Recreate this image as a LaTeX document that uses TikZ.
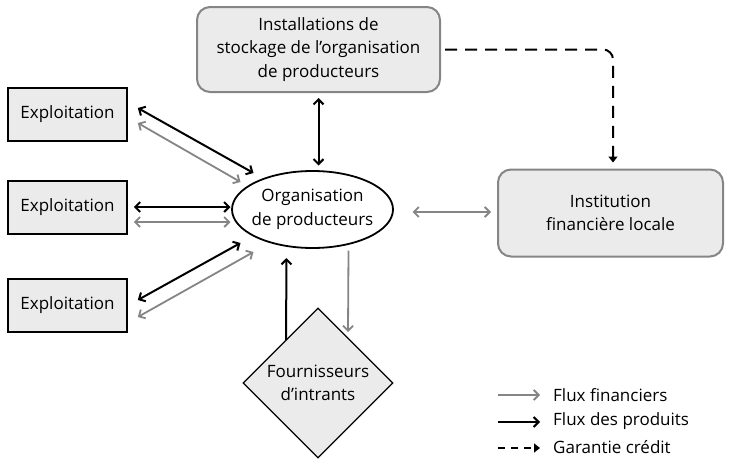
\documentclass[tikz,border=0pt]{standalone}
\usepackage{fontspec}
\setmainfont{Open Sans}
\usetikzlibrary{arrows.meta,shapes.geometric}
\definecolor{boxfill}{HTML}{EBEBEB}
\definecolor{flowgrey}{HTML}{858585}
\begin{document}
\begin{tikzpicture}[x=1pt,y=-1pt,
  every node/.style={font=\fontsize{17}{23.5}\selectfont, align=center},
  farm/.style={draw=black, line width=1.6pt, fill=boxfill, minimum width=119pt, minimum height=53pt, inner sep=0pt},
  roundbox/.style={draw=flowgrey, line width=2pt, fill=boxfill, rounded corners=13pt, inner sep=0pt},
  prod/.style={draw=black, line width=2pt, arrows={Straight Barb[length=5pt,width=10pt]-Straight Barb[length=5pt,width=10pt]}},
  fin/.style={draw=flowgrey, line width=1.8pt, arrows={Straight Barb[length=5pt,width=10pt]-Straight Barb[length=5pt,width=10pt]}},
  one/.style={arrows={-Straight Barb[length=5pt,width=10pt]}},
  credit/.style={draw=black, line width=2pt, dash pattern=on 12pt off 8pt, rounded corners=10pt, -{Triangle[length=6pt,width=9pt]}}
]
\useasboundingbox (0,0) rectangle (731,458);

% boxes
\node[roundbox, minimum width=243pt, minimum height=85pt] (store) at (318.5,49.5)
  {Installations de\\stockage de l'organisation\\de producteurs};
\node[roundbox, minimum width=225pt, minimum height=87pt] (bank) at (610.5,213)
  {Institution\\financière locale};
\node[draw=black, line width=1.8pt, fill=white, ellipse, minimum width=161pt, minimum height=77pt, inner xsep=-8pt, inner ysep=0pt] (op) at (312.5,209.5)
  {Organisation\\de producteurs};
\node[farm] (e1) at (67.5,114.5) {Exploitation};
\node[farm] (e2) at (67.5,207.5) {Exploitation};
\node[farm] (e3) at (67.5,305.5) {Exploitation};
\node[draw=black, line width=1.2pt, fill=boxfill, diamond, minimum width=150pt, minimum height=150pt, inner sep=0pt] (supp) at (318,383)
  {Fournisseurs\\d'intrants};

% farms <-> producer organisation
\draw[prod] ([shift={(10,-6.5)}]e1.east) -- ([shift={(-59,-36.5)}]op.center);
\draw[fin]  ([shift={(10,8.5)}]e1.east) -- ([shift={(-72,-27.5)}]op.center);
\draw[prod] ([shift={(6,-0.5)}]e2.east) -- ([shift={(-82,-2.5)}]op.center);
\draw[fin]  ([shift={(6,14.5)}]e2.east) -- ([shift={(-82,12.5)}]op.center);
\draw[prod] ([shift={(10,-5.5)}]e3.east) -- ([shift={(-72,33.5)}]op.center);
\draw[fin]  ([shift={(10,11.5)}]e3.east) -- ([shift={(-59,42.5)}]op.center);

% storage, bank, suppliers
\draw[prod] ([shift={(0,5)}]store.south) -- ([shift={(6,-44)}]op.center);
\draw[fin] ([shift={(100,2.5)}]op.center) -- ([shift={(-6,-1)}]bank.west);
\draw[draw=black, line width=2pt, one] ([shift={(-32,-43)}]supp.center) -- ([shift={(-26,48.5)}]op.center);
\draw[draw=flowgrey, line width=1.8pt, one] ([shift={(36,41)}]op.center) -- ([shift={(30,-51)}]supp.center);
\draw[credit] ([shift={(4,0)}]store.east) -| ([shift={(2.5,-6)}]bank.north);

% key
\coordinate (k1a) at (498,395); \coordinate (k1b) at (540,395);
\coordinate (k2a) at (498,422); \coordinate (k2b) at (540,422);
\coordinate (k3a) at (498,448); \coordinate (k3b) at (540,448);
\draw[draw=flowgrey, line width=1.8pt, one] (k1a) -- (k1b);
\draw[draw=black, line width=2pt, one] (k2a) -- (k2b);
\draw[draw=black, line width=2pt, dash pattern=on 7pt off 6pt, -{Triangle[length=6pt,width=9pt]}] (k3a) -- (k3b);
\node[anchor=west, inner sep=0pt] (l1) at (553,395) {Flux financiers};
\node[anchor=west, inner sep=0pt] (l2) at (553,421) {Flux des produits};
\node[anchor=west, inner sep=0pt] (l3) at (553,447) {Garantie crédit};
\end{tikzpicture}
\end{document}
